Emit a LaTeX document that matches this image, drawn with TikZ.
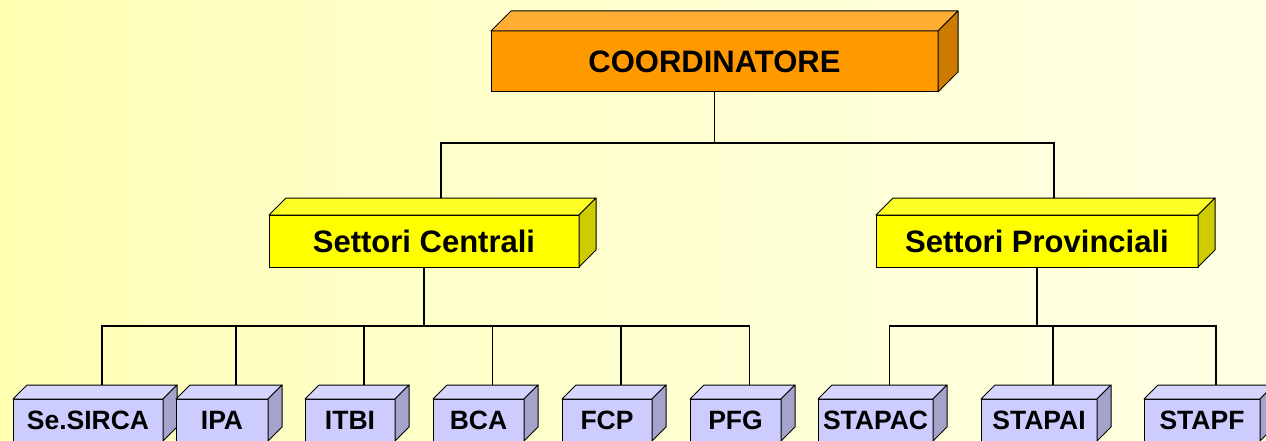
\documentclass[tikz,border=0pt]{standalone}
\usepackage{fontspec}
\setmainfont{Liberation Sans}
\definecolor{bgL}{RGB}{255,255,118}
\definecolor{bgM}{RGB}{255,255,192}
\definecolor{bgR}{RGB}{255,255,250}
\definecolor{orFront}{RGB}{255,153,0}
\definecolor{orTop}{RGB}{255,173,51}
\definecolor{orSide}{RGB}{204,122,0}
\definecolor{yeFront}{RGB}{255,255,0}
\definecolor{yeTop}{RGB}{255,255,40}
\definecolor{yeSide}{RGB}{204,204,0}
\definecolor{lvFront}{RGB}{204,204,255}
\definecolor{lvTop}{RGB}{214,214,255}
\definecolor{lvSide}{RGB}{163,163,204}
\pgfdeclarehorizontalshading{bgshade}{100bp}{color(0bp)=(bgL); color(32bp)=(bgM); color(100bp)=(bgR)}
% top and right faces of a box drawn as a block; also names the centre of its back top edge
\newcommand\drawcubefaces[4]{%
  \filldraw[face, fill=#3] (#1.north west) -- ([shift={(#2,#2)}]#1.north west)
    -- ([shift={(#2,#2)}]#1.north east) -- (#1.north east) -- cycle;
  \filldraw[face, fill=#4] (#1.north east) -- ([shift={(#2,#2)}]#1.north east)
    -- ([shift={(#2,#2)}]#1.south east) -- (#1.south east) -- cycle;
  \coordinate (#1-back) at ([shift={(#2,#2)}]#1.north);
}
\begin{document}
\begin{tikzpicture}[x=1pt,y=1pt,
  face/.style={draw=black, line width=1pt, line join=round},
  box/.style={draw=black, line width=1pt, line join=round, inner sep=0pt, outer sep=0pt, text=black},
  headbox/.style={box, fill=orFront, minimum width=447pt, minimum height=61pt,
    font=\bfseries\fontsize{31}{36}\selectfont},
  midbox/.style={box, fill=yeFront, minimum height=52pt,
    font=\bfseries\fontsize{31}{36}\selectfont},
  lowbox/.style={box, fill=lvFront, minimum height=42pt,
    font=\bfseries\fontsize{26.5}{30}\selectfont},
  link/.style={draw=black, line width=1.2pt}]
\clip (0,0) rectangle (1266,440);
\shade[shading=bgshade] (0,0) rectangle (1266,440);

% head
\node[headbox] (co) at (714.5,378.5) {COORDINATORE};
\drawcubefaces{co}{20}{orTop}{orSide}

% second level
\node[midbox, minimum width=310pt] (sc) at (424,199) {Settori Centrali};
\drawcubefaces{sc}{17}{yeTop}{yeSide}
\node[midbox, minimum width=322pt] (sp) at (1037,199) {Settori Provinciali};
\drawcubefaces{sp}{17}{yeTop}{yeSide}

% third level
\foreach \n/\cx/\w/\t in {b1/88/150/Se.SIRCA, b2/222/92/IPA, b3/350/90/ITBI,
    b4/478.5/91/BCA, b5/607/90/FCP, b6/735.5/91/PFG,
    b7/875.5/115/STAPAC, b8/1039/116/STAPAI, b9/1202/116/STAPF}{
  \node[lowbox, minimum width=\w pt] (\n) at (\cx,20) {\t};
  \drawcubefaces{\n}{14}{lvTop}{lvSide}
}

% connectors
\coordinate (j1) at (714.5,297);
\draw[link] (co.south) -- (j1);
\draw[link] (sc-back) |- (j1) -| (sp-back);

\coordinate (j2) at (424,114);
\draw[link] (sc.south) -- (j2);
\draw[link] (b1-back) |- (j2) -| (b6-back);
\foreach \n in {b2,b3,b4,b5}{\draw[link] (\n-back) -- (\n-back |- j2);}

\coordinate (j3) at (1037,114);
\draw[link] (sp.south) -- (j3);
\draw[link] (b7-back) |- (j3) -| (b9-back);
\draw[link] (b8-back) -- (b8-back |- j3);
\end{tikzpicture}
\end{document}
